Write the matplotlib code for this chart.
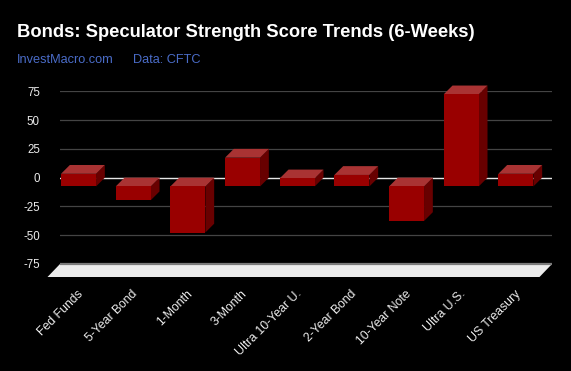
import matplotlib
matplotlib.use("Agg")
import matplotlib.pyplot as plt
from matplotlib.patches import Polygon
import matplotlib.transforms as mtransforms

plt.rcParams['font.family'] = ['Liberation Sans', 'DejaVu Sans']

# ---- data ----
categories = ["Fed Funds", "5-Year Bond", "1-Month", "3-Month", "Ultra 10-Year U.",
              "2-Year Bond", "10-Year Note", "Ultra U.S.", "US Treasury"]
scores = [11, -12, -40, 25, 7, 10, -30, 80, 11]
yticks = [-75, -50, -25, 0, 25, 50, 75]

title = "Bonds: Speculator Strength Score Trends (6-Weeks)"
subtitle_left = "InvestMacro.com"
subtitle_right = "Data: CFTC"

# ---- style ----
W, H = 571, 371
bg = "black"
front_c = "#990000"
top_c = "#a93333"
side_c = "#680000"

fig = plt.figure(figsize=(W / 100, H / 100), dpi=100, facecolor=bg)

ax_left, ax_right = 60, 552
ax_top, ax_bot = 91.3, 264
ax = fig.add_axes([ax_left / W, 1 - ax_bot / H, (ax_right - ax_left) / W, (ax_bot - ax_top) / H])
ax.set_facecolor(bg)
ax.set_xlim(-0.5, len(categories) - 0.5)
ax.set_ylim(yticks[0], yticks[-1])

# pixel -> data conversions
px_x = (len(categories)) / (ax_right - ax_left)
px_y = (yticks[-1] - yticks[0]) / (ax_bot - ax_top)

# gridlines
for t in yticks:
    if t == 0:
        ax.axhline(t, color="#e6e6e6", lw=1.0, zorder=1)
    else:
        ax.axhline(t, color="#444444", lw=0.9, zorder=0.5)

# floor
fdx, fdy = -12.5 * px_x, -13 * px_y
x0, x1 = ax.get_xlim()
yb = yticks[0]
floor = Polygon([(x0, yb), (x1, yb), (x1 + fdx, yb + fdy), (x0 + fdx, yb + fdy)],
                closed=True, facecolor="#ececec", edgecolor="none", clip_on=False, zorder=2)
ax.add_patch(floor)
ax.plot([x0, x1], [yb, yb], color="#7a7a7a", lw=1.6, clip_on=False, zorder=3, solid_capstyle="butt")

# 3D bars
bw = 35 * px_x
ddx, ddy = -8.8 * px_x, -8.8 * px_y
for i, v in enumerate(scores):
    xl = i - bw / 2
    xr = i + bw / 2
    top = max(v, 0)
    bot = min(v, 0)
    # side face
    ax.add_patch(Polygon([(xr + ddx, bot + ddy), (xr + ddx, top + ddy), (xr, top), (xr, bot)],
                         closed=True, facecolor=side_c, edgecolor="none", clip_on=False, zorder=4))
    # top face
    ax.add_patch(Polygon([(xl + ddx, top + ddy), (xr + ddx, top + ddy), (xr, top), (xl, top)],
                         closed=True, facecolor=top_c, edgecolor="none", clip_on=False, zorder=4))
    # front face
    ax.bar(i + ddx, v, width=bw, bottom=ddy, color=front_c, edgecolor="none", zorder=5, clip_on=False)

# axes styling
for s in ax.spines.values():
    s.set_visible(False)
ax.set_yticks(yticks)
ax.set_yticklabels([str(t) for t in yticks], color="#ececec", fontsize=8.3)
ax.tick_params(axis="y", length=0, pad=14.5)
ax.set_xticks([])

# category labels
trans = mtransforms.blended_transform_factory(ax.transData, ax.transAxes)
off = mtransforms.ScaledTranslation(-6 / 100, 0, fig.dpi_scale_trans)
for i, c in enumerate(categories):
    ax.text(i, -(292 - ax_bot) / (ax_bot - ax_top), c, transform=trans + off,
            rotation=45, rotation_mode="anchor", ha="right", va="center",
            color="#ececec", fontsize=8.8)

# title / subtitle
fig.text(17 / W, 1 - 36.7 / H, title, color="white", fontsize=13.2, fontweight="bold",
         ha="left", va="baseline")
fig.text(17 / W, 1 - 63.3 / H, subtitle_left, color="#4a6cc8", fontsize=9.2,
         ha="left", va="baseline")
fig.text(133 / W, 1 - 63.3 / H, subtitle_right, color="#4a6cc8", fontsize=9.2,
         ha="left", va="baseline")

fig.savefig("out.png", dpi=100, facecolor=bg)
